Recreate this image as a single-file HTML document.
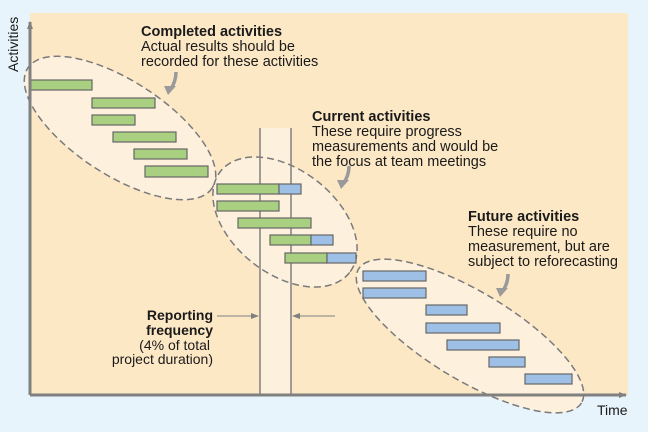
<!DOCTYPE html>
<html><head><style>
body{margin:0;background:#e8f4fc;}
svg{display:block;font-family:"Liberation Sans",Arial,sans-serif;}
</style></head><body>
<svg width="648" height="432" viewBox="0 0 648 432">
<defs><marker id="ah" markerWidth="8" markerHeight="8" refX="7" refY="4" orient="auto" markerUnits="userSpaceOnUse"><path d="M0,1 L8,4 L0,7z" fill="#808080"/></marker></defs>
<rect x="0" y="0" width="648" height="432" fill="#e8f4fc"/>
<rect x="30" y="13" width="598" height="382" fill="#fde8c6"/>
<rect x="260" y="128" width="31" height="267" fill="#fdf1de"/>
<g fill="#fdf1de" stroke="#7a7a7a" stroke-width="1.5" stroke-dasharray="7,4">
<ellipse cx="120" cy="128" rx="110" ry="47" transform="rotate(33 120 128)"/>
<ellipse cx="285" cy="222" rx="82" ry="52" transform="rotate(38 285 222)"/>
<ellipse cx="470" cy="336" rx="130" ry="44" transform="rotate(31 470 336)"/>
</g>
<line x1="260" y1="128" x2="260" y2="395" stroke="#808080" stroke-width="1.5"/>
<line x1="291" y1="128" x2="291" y2="395" stroke="#808080" stroke-width="1.5"/>
<g stroke="#666" stroke-width="1.2">
<g fill="#a8d080">
<rect x="30" y="80" width="62" height="10"/>
<rect x="92" y="98" width="63" height="10"/>
<rect x="92" y="115" width="43" height="10"/>
<rect x="113" y="132" width="63" height="10"/>
<rect x="134" y="149" width="53" height="10"/>
<rect x="145" y="166" width="63" height="11"/>
<rect x="217" y="184" width="62" height="10"/>
<rect x="217" y="201" width="62" height="10"/>
<rect x="238" y="218" width="73" height="10"/>
<rect x="270" y="235" width="41" height="10"/>
<rect x="285" y="253" width="42" height="10"/>
</g>
<g fill="#9ec0e6">
<rect x="279" y="184" width="22" height="10"/>
<rect x="311" y="235" width="22" height="10"/>
<rect x="327" y="253" width="29" height="10"/>
<rect x="363" y="271" width="63" height="10"/>
<rect x="363" y="288" width="63" height="10"/>
<rect x="426" y="305" width="41" height="10"/>
<rect x="426" y="323" width="74" height="10"/>
<rect x="447" y="340" width="72" height="10"/>
<rect x="489" y="357" width="36" height="10"/>
<rect x="525" y="374" width="47" height="10"/>
</g>
</g>
<line x1="30" y1="395" x2="30" y2="22" stroke="#808080" stroke-width="3" marker-end="url(#ah)"/>
<line x1="30" y1="395" x2="626" y2="395" stroke="#808080" stroke-width="3" marker-end="url(#ah)"/>
<line x1="217" y1="316" x2="258" y2="316" stroke="#808080" stroke-width="1" marker-end="url(#ah)"/>
<line x1="335" y1="316" x2="293" y2="316" stroke="#808080" stroke-width="1" marker-end="url(#ah)"/>
<g fill="none" stroke="#9a9a9a" stroke-width="3.5">
<path d="M176,72 Q176,82 170,90"/>
<path d="M349,166 Q349,176 343,184"/>
<path d="M508,274 Q508,284 502,292"/>
</g>
<g fill="#9a9a9a">
<path d="M164,86 L176,86 L168,95z"/>
<path d="M337,180 L349,180 L341,189z"/>
<path d="M496,288 L508,288 L500,297z"/>
</g>
<g font-size="14.5" fill="#1a1a1a">
<text x="18" y="72" transform="rotate(-90 18 72)" font-size="14">Activities</text>
<text x="597" y="415" font-size="14">Time</text>
<text x="141" y="36" font-weight="bold">Completed activities</text>
<text x="141" y="51">Actual results should be</text>
<text x="141" y="66">recorded for these activities</text>
<text x="312" y="121" font-weight="bold">Current activities</text>
<text x="312" y="136">These require progress</text>
<text x="312" y="151">measurements and would be</text>
<text x="312" y="166">the focus at team meetings</text>
<text x="468" y="221" font-weight="bold">Future activities</text>
<text x="468" y="236">These require no</text>
<text x="468" y="251">measurement, but are</text>
<text x="468" y="266">subject to reforecasting</text>
<g text-anchor="end" font-size="14">
<text x="213" y="320" font-weight="bold">Reporting</text>
<text x="213" y="335" font-weight="bold">frequency</text>
<text x="210" y="350">(4% of total</text>
<text x="213" y="364">project duration)</text>
</g>
</g>
</svg>
</body></html>
